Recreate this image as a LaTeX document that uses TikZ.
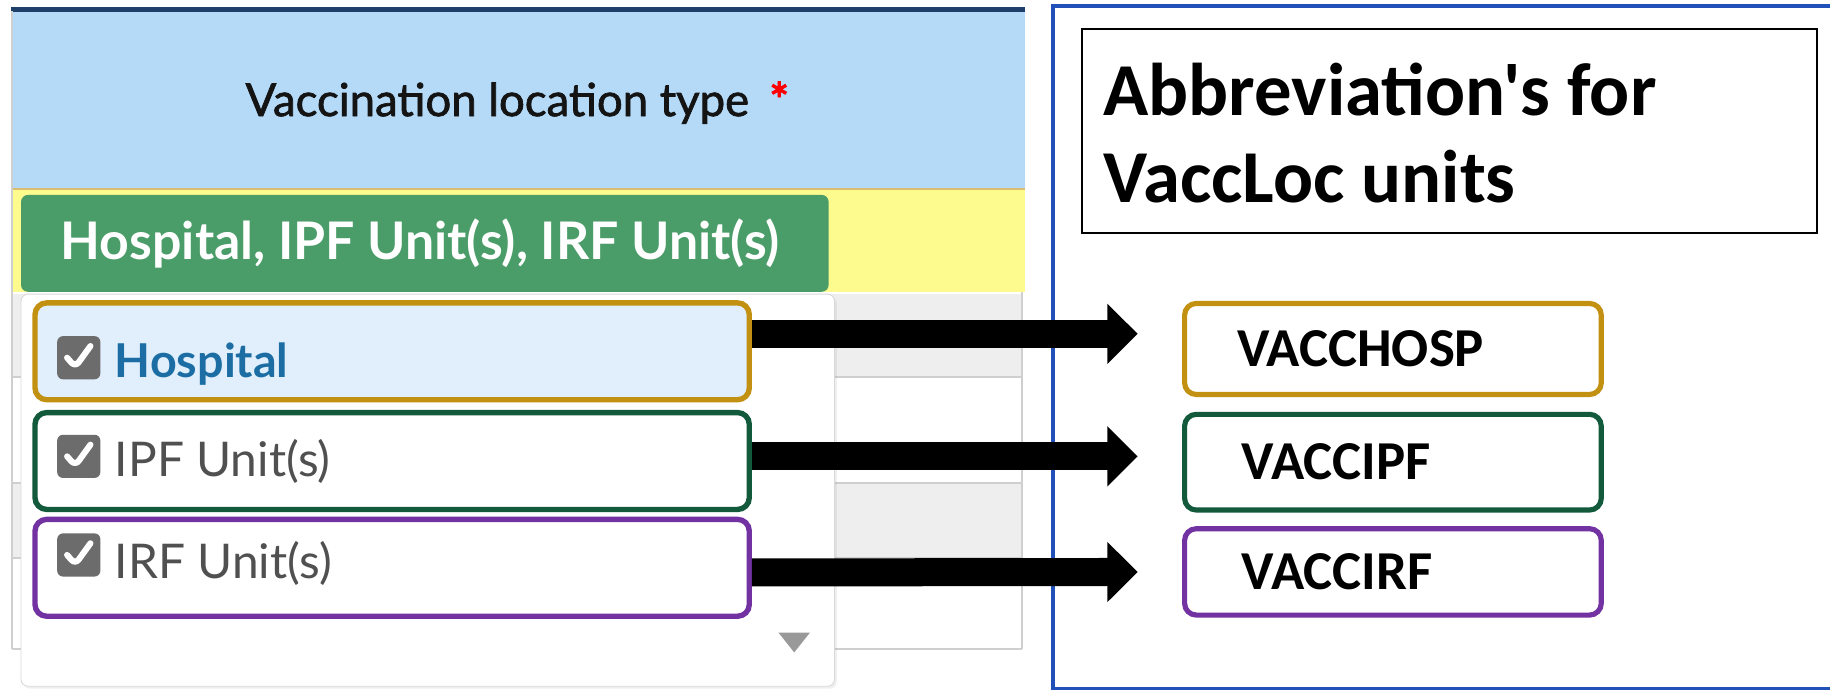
\documentclass[tikz,border=0pt]{standalone}
\usepackage{fontspec}
\setmainfont{Lato}
\newfontfamily\carlito{Carlito}
\newfontfamily\hdrfont[FakeBold=1.6]{Lato}
\usetikzlibrary{arrows.meta,calc,shadows}
\definecolor{navy}{HTML}{1F3F6B}
\definecolor{hdrblue}{HTML}{B4DAF8}
\definecolor{rowyellow}{HTML}{FDFA8E}
\definecolor{btngreen}{HTML}{4A9C68}
\definecolor{gold}{HTML}{C39112}
\definecolor{dgreen}{HTML}{135A3D}
\definecolor{purp}{HTML}{7232A2}
\definecolor{hospfill}{HTML}{E0EFFB}
\definecolor{hosptext}{HTML}{1B6DA3}
\definecolor{chkgray}{HTML}{6C6C6C}
\definecolor{itemtext}{HTML}{505050}
\definecolor{panelblue}{HTML}{2150B8}
\definecolor{rowgray}{HTML}{EEEEEE}
\definecolor{gridgray}{HTML}{CFCFCF}
\begin{document}
\begin{tikzpicture}[x=0.5pt,y=-0.5pt,
  item/.style={draw, line width=2.3pt, rounded corners=5pt, minimum width=306pt, minimum height=41.5pt, inner sep=0pt},
  abbr/.style={draw, line width=2.2pt, rounded corners=5pt, minimum width=178.5pt, text width=133.5pt, inner xsep=22.5pt, inner ysep=0pt, align=left, font=\carlito\bfseries\fontsize{23.5}{28}\selectfont},
  chk/.style={fill=chkgray, rounded corners=2.5pt, minimum size=18.5pt, inner sep=0pt,
    path picture={\draw[white, line width=2.6pt, line cap=round, line join=round]
      ([xshift=-5pt,yshift=0pt]path picture bounding box.center) --
      ([xshift=-1.5pt,yshift=-4pt]path picture bounding box.center) --
      ([xshift=5pt,yshift=5pt]path picture bounding box.center);}},
  itemlabel/.style={anchor=west, inner sep=0pt, font=\fontsize{20.5}{24}\selectfont, text=itemtext},
  arr/.style={line width=12pt, -{Triangle[length=13pt,width=25pt]}, shorten >=19pt}
]
\useasboundingbox (0,0) rectangle (1568,591);
\fill[white] (0,0) rectangle (1568,591);
% left form panel
\fill[hdrblue] (10,9) rectangle (878,162);
\draw[navy, line width=2pt] (9,8) -- (878,8);
\fill[rowyellow] (10,162) rectangle (878,250);
\draw[gold!60, line width=1pt] (10,162) -- (878,162);
\fill[rowgray] (10,252) rectangle (876,323);
\fill[rowgray] (10,414) rectangle (876,478);
\foreach \yy in {323,414,478,556} \draw[gridgray, line width=0.8pt] (10,\yy) -- (876,\yy);
\draw[gridgray, line width=0.8pt] (10,9) -- (10,556);
\draw[gridgray, line width=0.8pt] (876,250) -- (876,556);
\node[anchor=west, inner sep=0pt, font=\hdrfont\fontsize{19.5}{23}\selectfont, text=black!92] (hdr) at (210,88) {Vaccination location type\hspace{0.45em}\textcolor{red}{\bfseries *}};
\node[fill=btngreen, rounded corners=3pt, minimum width=346pt, minimum height=41.5pt, inner sep=0pt, text=white, font=\bfseries\fontsize{22.2}{25}\selectfont] (btn) at (364,208.5) {\hspace{-4pt}Hospital, IPF Unit(s), IRF Unit(s)};
% dropdown
\node[draw=black!15, fill=white, rounded corners=3pt, minimum width=348.5pt, minimum height=168pt, inner sep=0pt, drop shadow={opacity=0.12, shadow xshift=1pt, shadow yshift=-1pt}] (dd) at (366.5,420) {};
\fill[black!40] (667,542) -- (694,542) -- (680.5,559) -- cycle;
% items
\node[item, draw=gold, fill=hospfill] (hosp) at (336,301) {};
\node[item, draw=dgreen, fill=white] (ipf) at (336,395) {};
\node[item, draw=purp, fill=white] (irf) at (336,486.5) {};
\node[chk] (c1) at (67.5,306.5) {};
\node[chk] (c2) at (67.5,391) {};
\node[chk] (c3) at (67.5,475.5) {};
\node[itemlabel, text=hosptext, font=\bfseries\fontsize{20}{24}\selectfont] (l1) at (98,312) {Hospital};
\node[itemlabel] (l2) at (98,395) {IPF Unit(s)};
\node[itemlabel] (l3) at (98,483) {IRF Unit(s)};
% right panel
\draw[panelblue, line width=1.6pt] (902,5) rectangle (1575,590);
\node[draw=black, line width=0.8pt, minimum width=315pt, minimum height=87.5pt, inner sep=0pt] (tbox) at (1242,112.5) {};
\node[anchor=west, inner sep=0pt, align=left, font=\carlito\bfseries\fontsize{32}{37}\selectfont] (title) at (945,114) {Abbreviation's for\\VaccLoc units};
\node[abbr, draw=gold, minimum height=39pt] (v1) at (1193.5,299) {VACCHOSP};
\node[abbr, draw=dgreen, minimum height=41pt] (v2) at (1193.5,396) {\hspace{2pt}VACCIPF};
\node[abbr, draw=purp, minimum height=37pt] (v3) at (1193.5,490) {\hspace{2pt}VACCIRF};
% arrows
\draw[arr] ([yshift=7.5pt]hosp.east) -- ([yshift=6.5pt]v1.west);
\draw[arr] ([yshift=2pt]ipf.east) -- ([yshift=2.5pt]v2.west);
\draw[arr] ([yshift=-2pt]irf.east) -- ([yshift=0pt]v3.west);
\end{tikzpicture}
\end{document}
